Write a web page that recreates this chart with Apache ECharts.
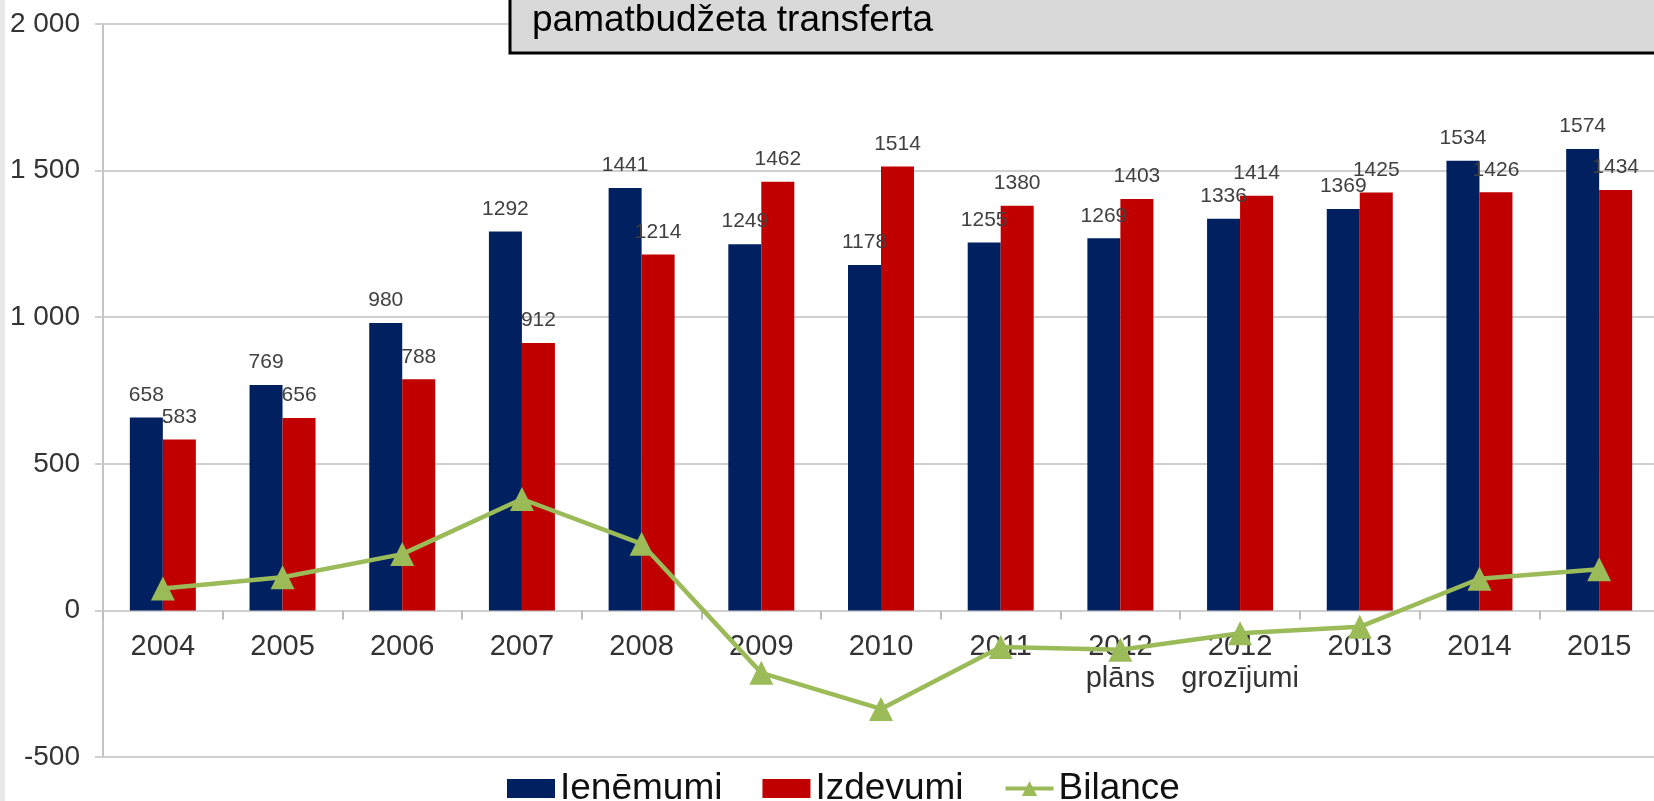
<!DOCTYPE html>
<html>
<head>
<meta charset="utf-8">
<script src="https://cdn.jsdelivr.net/npm/echarts@6.0.0/dist/echarts.min.js"></script>
<style>
  html, body { margin: 0; padding: 0; background: #fff; overflow: hidden; }
  #chart { width: 1654px; height: 801px; }
</style>
</head>
<body>
<div id="chart"></div>
<script>
const categories = ['2004', '2005', '2006', '2007', '2008', '2009', '2010', '2011', '2012\nplāns', '2012\ngrozījumi', '2013', '2014', '2015']
const ienemumi = [658, 769, 980, 1292, 1441, 1249, 1178, 1255, 1269, 1336, 1369, 1534, 1574]
const izdevumi = [583, 656, 788, 912, 1214, 1462, 1514, 1380, 1403, 1414, 1425, 1426, 1434]
const bilance = [75, 113, 192, 380, 227, -213, -336, -125, -134, -78, -56, 108, 140]
const yMin = -500
const yMax = 2000
const yStep = 500
const boxText = 'pamatbudžeta transferta'

const font = '"Liberation Sans", Arial, sans-serif'
const gridColor = '#d0d0d0'

// plot area, in px
const gridTop = 24
const gridBottom = 757
// the category axis sits on the zero line, so lift it from the bottom edge
const zeroOffset = -(gridBottom - gridTop) * (0 - yMin) / (yMax - yMin)

const chart = echarts.init(document.getElementById('chart'))

const barLabel = {
  show: true,
  position: 'top',
  distance: 12,
  fontSize: 21,
  color: '#404040',
  fontFamily: font
}

const option = {
  animation: false,
  backgroundColor: '#fff',
  textStyle: { fontFamily: font },
  grid: {
    left: 103,
    top: gridTop,
    width: 1556,
    height: gridBottom - gridTop,
    outerBoundsMode: 'none',
    containLabel: false
  },
  legend: {
    left: 502,
    top: 765,
    itemWidth: 48,
    itemHeight: 19,
    itemGap: 40,
    textStyle: { fontSize: 37, color: '#111', fontFamily: font },
    data: [
      { name: 'Ieņēmumi', icon: 'rect' },
      { name: 'Izdevumi', icon: 'rect' },
      { name: 'Bilance', lineStyle: { width: 4 } }
    ]
  },
  xAxis: {
    type: 'category',
    data: categories,
    position: 'bottom',
    offset: zeroOffset,
    axisLine: { onZero: false, lineStyle: { color: gridColor, width: 2 } },
    axisTick: { show: true, length: 9, lineStyle: { color: '#bdbdbd', width: 2 } },
    axisLabel: {
      interval: 0,
      fontSize: 29,
      lineHeight: 32,
      margin: 21,
      color: '#333',
      fontFamily: font
    }
  },
  yAxis: {
    type: 'value',
    min: yMin,
    max: yMax,
    interval: yStep,
    axisLine: { show: true, lineStyle: { color: '#c4c4c4', width: 2 } },
    axisTick: { show: true, length: 8, lineStyle: { color: gridColor, width: 2 } },
    splitLine: { lineStyle: { color: gridColor, width: 2 } },
    axisLabel: {
      fontSize: 28,
      margin: 23,
      color: '#333',
      fontFamily: font,
      formatter: v => String(v).replace(/\B(?=(\d{3})+(?!\d))/g, ' ')
    }
  },
  graphic: [
    {
      type: 'rect',
      left: 0,
      top: 0,
      shape: { width: 5, height: 801 },
      style: { fill: '#e8e8e8' },
      z: 100
    },
    {
      type: 'rect',
      shape: { x: 510, y: -10, width: 1200, height: 63 },
      style: { fill: '#d9d9d9', stroke: '#000', lineWidth: 3 },
      z: 100
    },
    {
      type: 'text',
      x: 532,
      y: 21,
      style: {
        text: boxText,
        fontSize: 37,
        fontFamily: font,
        fill: '#000',
        verticalAlign: 'middle'
      },
      z: 101
    }
  ],
  series: [
    {
      name: 'Ieņēmumi',
      type: 'bar',
      data: ienemumi,
      barWidth: 33,
      barGap: '0%',
      itemStyle: { color: '#002060' },
      label: barLabel
    },
    {
      name: 'Izdevumi',
      type: 'bar',
      data: izdevumi,
      barWidth: 33,
      itemStyle: { color: '#c00000' },
      label: barLabel
    },
    {
      name: 'Bilance',
      type: 'line',
      data: bilance,
      symbol: 'triangle',
      symbolSize: 24,
      itemStyle: { color: '#9bbb59' },
      lineStyle: { color: '#9bbb59', width: 4.5 },
      z: 5
    }
  ]
}

chart.setOption(option)
</script>
</body>
</html>
